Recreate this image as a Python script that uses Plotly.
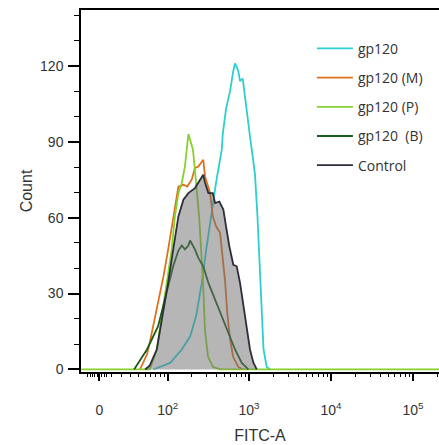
import numpy as np
import plotly.graph_objects as go

# ---------------- data (FITC-A intensity, event count) ----------------
gp120_fitc = [65, 107, 150, 190, 225, 264, 299, 341, 396, 465, 478, 524, 587, 643, 675,
              740, 777, 838, 876, 938, 1028, 1110, 1183, 1270, 1362, 1440, 1502, 1644, 1804]
gp120_count = [0, 2.6, 7.9, 13, 21, 34, 47, 60, 74, 87, 93, 103, 110, 118, 121,
               118, 114, 115, 110, 100, 92, 84, 77, 60, 40, 20, 8, 1, 0]

gp120M_fitc = [42, 53, 58, 72, 88, 101, 117, 136, 157, 175, 199, 218, 240, 264, 276,
               290, 334, 361, 396, 443, 478, 510, 544, 587, 640, 740, 852]
gp120M_count = [0, 5.9, 10.7, 23.7, 36.8, 47.4, 60.5, 72.3, 73, 72.3, 75, 79.7, 80.2, 82, 82.9,
                76.3, 69.9, 60.5, 56.6, 54, 44.7, 35, 22, 12, 5, 1, 0]

gp120P_fitc = [-16, 58, 72, 84, 97, 112, 123, 136, 150, 164, 181, 206, 225, 246, 260,
               275, 290, 316, 364, 443, 210000]
gp120P_count = [0, 0, 7.9, 21, 34, 47.4, 60.5, 69.6, 73.7, 80.3, 93, 87, 74, 60, 47,
                34, 15, 5, 1, 0, 0]

gp120B_fitc = [34, 40, 53, 75, 97, 117, 136, 150, 164, 181, 190, 218, 240, 276, 319,
               385, 465, 560, 675, 815, 981]
gp120B_count = [0, 2.6, 7.9, 17.1, 30.3, 40.8, 47, 49, 47.5, 49, 51, 47.5, 44.1, 40.8, 34.2,
                27.6, 21, 14.5, 7.9, 2.6, 0]

control_fitc = [50, 58, 72, 86, 101, 117, 136, 157, 181, 218, 252, 276, 290, 319, 361,
                385, 434, 486, 524, 575, 643, 708, 777, 852, 938, 1028, 1128, 1241]
control_count = [0, 1.6, 7.9, 21, 34.3, 47.4, 60.5, 67.1, 69.7, 71.7, 75, 77, 73.8, 69.7, 69.7,
                 65.8, 66.4, 63.2, 56.6, 48.7, 41.4, 40.8, 34.2, 25, 15.8, 7.9, 2.8, 0]

series_names = ["gp120", "gp120 (M)", "gp120 (P)", "gp120  (B)", "Control"]

x_major_vals = [0, 1e2, 1e3, 1e4, 1e5]
x_major_text = ["0", "10<sup>2</sup>", "10<sup>3</sup>", "10<sup>4</sup>", "10<sup>5</sup>"]
y_major_vals = [0, 30, 60, 90, 120]

# ---------------- biexponential display scale ----------------
W = 15.0


def biex(v):
    v = np.asarray(v, dtype=float)
    return np.log10((v + np.sqrt(v * v + 4 * W * W)) / 2.0)


minor_vals = ([m * 10 ** n for n in (2, 3, 4) for m in range(2, 10)] + [2e5]
              + [10 * m for m in range(1, 10)] + list(range(-10, 8, 2)))

X_RANGE = [0.951, 5.317]
Y_RANGE = [-1.0, 142.1]

colors = {
    "gp120": "#2ccfcf",
    "gp120 (M)": "#e0701e",
    "gp120 (P)": "#86d22c",
    "gp120  (B)": "#1a5c1a",
}

fig = go.Figure()
for name, xs, ys in [("gp120", gp120_fitc, gp120_count),
                     ("gp120 (M)", gp120M_fitc, gp120M_count),
                     ("gp120 (P)", gp120P_fitc, gp120P_count),
                     ("gp120  (B)", gp120B_fitc, gp120B_count)]:
    fig.add_trace(go.Scatter(x=biex(xs), y=ys, mode="lines", name=name, legendgroup=name,
                             line=dict(color=colors[name], width=1.8)))

# control: translucent grey fill on top, then its dark outline
fig.add_trace(go.Scatter(x=biex(control_fitc), y=control_count, mode="lines", fill="tozeroy",
                         fillcolor="rgba(110,110,112,0.5)", line=dict(width=0),
                         showlegend=False, hoverinfo="skip"))
fig.add_trace(go.Scatter(x=biex(control_fitc), y=control_count, mode="lines", name="Control",
                         legendgroup="Control", line=dict(color="#2e2e3a", width=1.8)))

# invisible trace to activate overlay axis for minor ticks
fig.add_trace(go.Scatter(x=[None], y=[None], xaxis="x2", showlegend=False, hoverinfo="skip"))

FONT = "Liberation Sans, Arial, sans-serif"
tick_font = dict(family=FONT, size=14, color="#333333")

fig.update_layout(
    width=439, height=445,
    margin=dict(l=81, r=0, t=10, b=72.5, autoexpand=False),
    paper_bgcolor="white", plot_bgcolor="white",
    xaxis=dict(range=X_RANGE, tickmode="array", tickvals=biex(x_major_vals), ticktext=x_major_text,
               ticks="outside", ticklen=7, tickwidth=2, tickcolor="black",
               showline=True, linecolor="black", linewidth=2, mirror=True,
               showgrid=False, zeroline=False, tickfont=tick_font, ticklabelstandoff=17,
               automargin=False,
               title=dict(text="FITC-A", font=dict(family=FONT, size=16, color="#333333"),
                          standoff=13)),
    xaxis2=dict(range=X_RANGE, overlaying="x", anchor="y", side="bottom", tickmode="array",
                tickvals=biex(minor_vals), ticks="outside", ticklen=4, tickwidth=1.2,
                tickcolor="black", showticklabels=False, showgrid=False, zeroline=False,
                showline=False, automargin=False),
    yaxis=dict(range=Y_RANGE, tickmode="array", tickvals=y_major_vals,
               ticks="outside", ticklen=11, tickwidth=2, tickcolor="black",
               minor=dict(dtick=10, tick0=0, ticklen=5, tickwidth=1, ticks="outside",
                          tickcolor="black", showgrid=False),
               showline=True, linecolor="black", linewidth=1.5,
               showgrid=False, zeroline=False, tickfont=tick_font, ticklabelstandoff=2,
               automargin=False,
               title=dict(text="Count", font=dict(family=FONT, size=16, color="#333333"),
                          standoff=3)),
    legend=dict(x=0.645, y=0.937, xanchor="left", yanchor="top",
                font=dict(family="Open Sans, sans-serif", size=14, color="#333333"),
                itemwidth=36, tracegroupgap=8, bgcolor="rgba(0,0,0,0)"),
)

fig.write_html("out.html", config={"displayModeBar": False},
               post_script="document.body.style.margin='0';")
